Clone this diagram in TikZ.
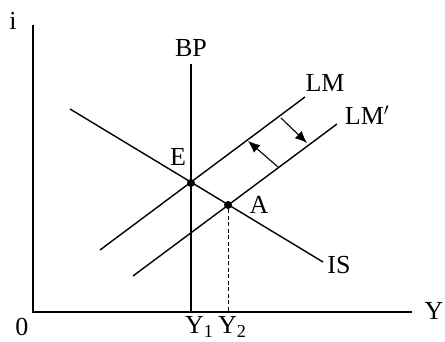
\documentclass[tikz,border=0pt]{standalone}
\usepackage{fontspec}
\setmainfont{Liberation Serif}
\usetikzlibrary{arrows.meta}
\begin{document}
\begin{tikzpicture}[x=1pt,y=-1pt,
  curve/.style={line width=1.4pt},
  lbl/.style={inner sep=0pt,font=\fontsize{26}{30}\selectfont},
  pt/.style={circle,fill=black,inner sep=0pt,minimum size=8pt},
  shift arrow/.style={line width=1.1pt,-{Latex[length=12pt,width=10pt]}}]
\useasboundingbox (0,0) rectangle (445,342);
% axes
\coordinate (O) at (33,312);
\coordinate (ytop) at (33,25);
\coordinate (xend) at (412,312);
\draw[curve] (ytop) -- (O) -- (xend);
\node[lbl] (i) at (13,21) {i};
\node[lbl] (zero) at (22,327) {0};
\node[lbl] (Y) at (434,311) {Y};
% BP
\coordinate (bptop) at (191,64);
\coordinate (bpbot) at (191,312);
\draw[curve] (bptop) -- (bpbot);
\node[lbl] (BP) at (191,48) {BP};
% IS
\coordinate (is1) at (70,109);
\coordinate (is2) at (323,262);
\draw[curve] (is1) -- (is2);
\node[lbl] (IS) at (339,265) {IS};
% LM
\coordinate (lm1) at (100,250);
\coordinate (lm2) at (305,97);
\draw[curve] (lm1) -- (lm2);
\node[lbl] (LM) at (325,83) {LM};
% LM'
\coordinate (lmp1) at (133,276);
\coordinate (lmp2) at (337,124);
\draw[curve] (lmp1) -- (lmp2);
\node[lbl] (LMp) at (367,115) {LM$'$};
% points
\node[pt] (E) at (191,183) {};
\node[lbl] (Elbl) at (178,157) {E};
\node[pt] (A) at (228,205) {};
\node[lbl] (Albl) at (259,205) {A};
\coordinate (Y2foot) at (228,312);
\draw[line width=1pt,dash pattern=on 4pt off 2.5pt] (A) -- (Y2foot);
% shift arrows
\coordinate (a1s) at (281,118);
\coordinate (a1e) at (307,143);
\draw[shift arrow] (a1s) -- (a1e);
\coordinate (a2s) at (278,167);
\coordinate (a2e) at (248,141);
\draw[shift arrow] (a2s) -- (a2e);
% Y labels
\node[lbl,anchor=base west] (Y1) at (185,334) {Y\textsubscript{1}};
\node[lbl,anchor=base west] (Y2) at (218,334) {Y\textsubscript{2}};
\end{tikzpicture}
\end{document}
